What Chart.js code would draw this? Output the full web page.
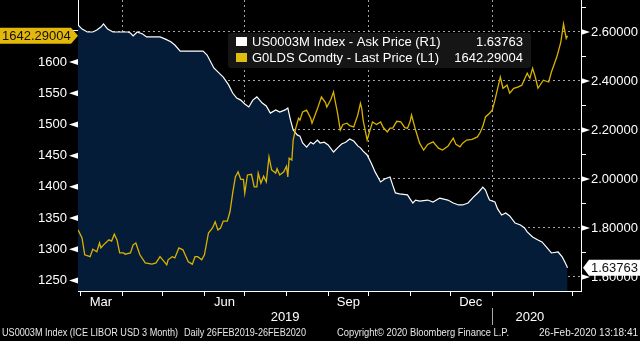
<!DOCTYPE html>
<html>
<head>
<meta charset="utf-8">
<script src="https://cdn.jsdelivr.net/npm/chart.js@4.4.1/dist/chart.umd.min.js"></script>
<style>
  html, body { margin: 0; padding: 0; background: #000; }
  canvas { display: block; }
</style>
</head>
<body>
<canvas id="chart" width="640" height="341"></canvas>
<script>
// days counted from 26 Feb 2019
const goldDays = [1,4,6,10,12,15,17,18,20,24,26,28,30,32,35,36,40,42,44,47,51,56,59,62,64,67,68,71,73,76,79,83,86,88,90,93,95,98,101,103,105,107,109,112,114,116,118,120,122,124,125,127,130,132,134,135,137,139,141,143,145,148,149,151,154,156,157,158,160,161,163,165,166,168,171,174,175,179,182,185,186,189,191,192,194,196,198,201,203,206,209,211,212,213,216,218,220,223,226,228,231,233,235,238,241,244,246,248,249,252,255,258,261,265,269,272,276,280,282,285,287,290,294,298,300,302,304,307,309,311,315,317,320,322,325,328,331,335,337,339,341,343,347,351,353,357,360,362,364,365];
const goldValues = [1331,1318,1291,1288,1300,1296,1310,1302,1307,1315,1313,1324,1315,1294,1294,1292,1294,1307,1310,1291,1278,1276,1278,1288,1283,1275,1283,1288,1286,1302,1299,1280,1276,1288,1288,1283,1291,1326,1334,1344,1331,1334,1345,1345,1360,1390,1416,1424,1412,1412,1390,1419,1420,1400,1400,1422,1406,1417,1408,1448,1427,1422,1429,1419,1424,1433,1416,1446,1443,1475,1495,1510,1507,1520,1523,1510,1502,1525,1544,1535,1528,1540,1552,1540,1518,1491,1500,1502,1498,1496,1515,1534,1525,1507,1475,1490,1504,1500,1504,1495,1488,1494,1494,1505,1504,1495,1494,1505,1515,1491,1470,1459,1468,1472,1462,1459,1465,1478,1468,1464,1470,1475,1476,1480,1487,1497,1512,1518,1523,1539,1576,1558,1563,1550,1558,1560,1563,1582,1574,1590,1576,1558,1571,1568,1584,1608,1632,1661,1638,1642.29004];

const liborDays = [1,4,8,12,15,18,20,23,27,32,38,40,42,45,49,52,57,62,66,70,73,77,82,87,94,97,102,105,109,113,116,119,122,125,128,131,134,138,141,144,148,151,155,157,159,161,164,166,168,171,174,176,179,181,184,187,191,194,197,200,203,206,209,211,213,216,219,222,226,229,233,235,237,240,246,248,250,252,255,261,265,270,276,280,284,287,291,295,299,302,304,306,307,311,313,316,319,322,326,330,333,335,339,343,346,350,353,358,361,363,365];
const liborValues = [2.629,2.612,2.600,2.600,2.608,2.620,2.633,2.612,2.600,2.600,2.600,2.596,2.584,2.600,2.592,2.580,2.580,2.580,2.571,2.560,2.547,2.522,2.522,2.522,2.522,2.506,2.453,2.437,2.416,2.384,2.351,2.330,2.322,2.306,2.294,2.322,2.335,2.310,2.298,2.269,2.282,2.273,2.282,2.290,2.240,2.200,2.180,2.175,2.147,2.130,2.150,2.143,2.159,2.147,2.150,2.139,2.110,2.127,2.143,2.150,2.163,2.155,2.135,2.127,2.114,2.098,2.065,2.028,1.988,2.000,2.008,1.975,1.943,1.939,1.935,1.918,1.902,1.914,1.910,1.914,1.906,1.922,1.914,1.902,1.894,1.894,1.902,1.926,1.947,1.967,1.955,1.926,1.914,1.906,1.878,1.853,1.861,1.849,1.820,1.812,1.800,1.784,1.763,1.751,1.743,1.718,1.698,1.702,1.682,1.661,1.63763];

const monthStarts = [3,34,64,95,125,156,187,217,248,278,309,340,369];
const quarterStarts = [34,125,217,309];
const monthLabels = ['Mar','Jun','Sep','Dec'];
const monthLabelDays = [18,110,202,293];
const yearLabels = ['2019','2020'];
const yearLabelDays = [155,337];
const leftTicks = [1250,1275,1300,1325,1350,1375,1400,1425,1450,1475,1500,1525,1550,1575,1600,1625,1650,1675];
const rightTicks = [1.6,1.7,1.8,1.9,2.0,2.1,2.2,2.3,2.4,2.5,2.6,2.7];

const legendNames = ['US0003M Index - Ask Price (R1)', 'G0LDS Comdty - Last Price (L1)'];
const legendValues = ['1.63763', '1642.29004'];

const FONT = "'Liberation Sans', Arial, sans-serif";
const GRID = 'rgba(175,180,188,0.9)';
const GOLD = '#d9b200';

Chart.defaults.font.family = FONT;

function pts(days, vals){ return days.map((d,i)=>({x:d, y:vals[i]})); }
function isMajorLeft(v){ return v % 50 === 0 && v <= 1600; }
function isMajorRight(v){ return Math.round(v*10) % 2 === 0; }

const overlay = {
  id: 'overlay',
  afterDraw(chart){
    const ctx = chart.ctx;
    const x = chart.scales.x, yl = chart.scales.y, yr = chart.scales.y1;
    const area = chart.chartArea;
    ctx.save();

    // axis arrows
    ctx.fillStyle = '#fff';
    leftTicks.filter(isMajorLeft).forEach(v=>{
      const py = yl.getPixelForValue(v);
      ctx.beginPath(); ctx.moveTo(area.left, py-3); ctx.lineTo(area.left, py+3); ctx.lineTo(area.left-9, py); ctx.fill();
    });
    rightTicks.filter(isMajorRight).forEach(v=>{
      const py = yr.getPixelForValue(v);
      ctx.beginPath(); ctx.moveTo(area.right, py-3); ctx.lineTo(area.right, py+3); ctx.lineTo(area.right+9, py); ctx.fill();
    });

    // month and year labels
    ctx.font = '13px ' + FONT;
    ctx.textAlign = 'center';
    ctx.textBaseline = 'middle';
    ctx.fillStyle = '#fff';
    monthLabels.forEach((m,i)=> ctx.fillText(m, x.getPixelForValue(monthLabelDays[i]), 302));
    yearLabels.forEach((m,i)=> ctx.fillText(m, x.getPixelForValue(yearLabelDays[i]), 317));
    const sep = Math.round(x.getPixelForValue(309)) + 0.5;
    ctx.strokeStyle = '#aaa'; ctx.lineWidth = 1;
    ctx.beginPath(); ctx.moveTo(sep, 308); ctx.lineTo(sep, 325); ctx.stroke();

    // footer
    ctx.font = '10px ' + FONT;
    ctx.textAlign = 'left';
    ctx.fillStyle = '#e8e8e8';
    ctx.fillText('US0003M Index (ICE LIBOR USD 3 Month)', 2, 333, 176);
    ctx.fillText('Daily 26FEB2019-26FEB2020', 184, 333, 122);
    ctx.fillText('Copyright\u00a9 2020 Bloomberg Finance L.P.', 337, 333, 172);
    ctx.textAlign = 'right';
    ctx.fillText('26-Feb-2020 13:18:41', 638, 333, 115);

    // legend box
    ctx.fillStyle = 'rgba(22,22,22,0.95)';
    ctx.beginPath(); ctx.roundRect(228, 33, 303, 35, 3); ctx.fill();
    ctx.fillStyle = '#fff'; ctx.fillRect(236, 37, 11, 9);
    ctx.fillStyle = '#e0be10'; ctx.fillRect(236, 53, 11, 9);
    ctx.font = '13px ' + FONT;
    ctx.fillStyle = '#fff';
    ctx.textAlign = 'left';
    ctx.fillText(legendNames[0], 252, 42);
    ctx.fillText(legendNames[1], 252, 58);
    ctx.textAlign = 'right';
    ctx.fillText(legendValues[0], 523, 42);
    ctx.fillText(legendValues[1], 523, 58);

    // last value tags
    const gy = yl.getPixelForValue(goldValues[goldValues.length-1]);
    ctx.fillStyle = '#e3b80a';
    ctx.beginPath();
    ctx.moveTo(0, gy-8); ctx.lineTo(area.left-7, gy-8); ctx.lineTo(area.left, gy);
    ctx.lineTo(area.left-7, gy+8); ctx.lineTo(0, gy+8); ctx.closePath(); ctx.fill();
    ctx.fillStyle = '#111';
    ctx.textAlign = 'left';
    ctx.fillText(legendValues[1], 2, gy+0.5);

    const ly = yr.getPixelForValue(liborValues[liborValues.length-1]);
    ctx.fillStyle = '#fff';
    ctx.beginPath();
    ctx.moveTo(area.right+2, ly); ctx.lineTo(area.right+8, ly-8); ctx.lineTo(640, ly-8);
    ctx.lineTo(640, ly+8); ctx.lineTo(area.right+8, ly+8); ctx.closePath(); ctx.fill();
    ctx.fillStyle = '#111';
    ctx.fillText(legendValues[0], 591, ly+0.5);

    ctx.restore();
  }
};

new Chart(document.getElementById('chart'), {
  type: 'line',
  data: {
    datasets: [
      {
        label: legendNames[1],
        data: pts(goldDays, goldValues),
        yAxisID: 'y',
        borderColor: GOLD,
        borderWidth: 1.3,
        pointRadius: 0,
        fill: false
      },
      {
        label: legendNames[0],
        data: pts(liborDays, liborValues),
        yAxisID: 'y1',
        borderColor: '#ffffff',
        borderWidth: 1.2,
        pointRadius: 0,
        fill: 'start',
        backgroundColor: '#041c38'
      }
    ]
  },
  options: {
    responsive: false,
    animation: false,
    devicePixelRatio: 1,
    layout: { padding: 0 },
    plugins: { legend: { display: false }, tooltip: { enabled: false } },
    scales: {
      x: {
        type: 'linear', min: 1, max: 375, position: 'bottom',
        afterBuildTicks: s => { s.ticks = monthStarts.map(v=>({value:v})); },
        afterFit: s => { s.height = 50; s.paddingLeft = 0; s.paddingRight = 0; },
        ticks: { callback: () => '', padding: 0 },
        grid: {
          color: c => (c.tick && quarterStarts.includes(c.tick.value)) ? GRID : 'rgba(0,0,0,0)',
          tickColor: '#fff', tickLength: 5
        },
        border: { color: '#fff', width: 1, dash: [2,3] }
      },
      y: {
        type: 'linear', position: 'left', min: 1233, max: 1699.5,
        afterBuildTicks: s => { s.ticks = leftTicks.map(v=>({value:v})); },
        afterFit: s => { s.width = 78; s.paddingTop = 0; s.paddingBottom = 0; },
        ticks: { callback: v => isMajorLeft(v) ? String(v) : '', color: '#fff', font: { size: 13 }, padding: 6 },
        grid: { drawOnChartArea: false, tickColor: '#fff', tickLength: 5 },
        border: { color: '#fff', width: 1 }
      },
      y1: {
        type: 'linear', position: 'right', min: 1.5428, max: 2.7306,
        afterBuildTicks: s => { s.ticks = rightTicks.map(v=>({value:v})); },
        afterFit: s => { s.width = 59; s.paddingTop = 0; s.paddingBottom = 0; },
        ticks: { callback: v => isMajorRight(v) ? v.toFixed(5) : '', color: '#fff', font: { size: 13 }, padding: 5 },
        grid: {
          drawOnChartArea: true,
          color: c => (c.tick && isMajorRight(c.tick.value)) ? GRID : 'rgba(0,0,0,0)',
          tickColor: '#fff', tickLength: 5
        },
        border: { color: '#fff', width: 1, dash: [2,3] }
      }
    }
  },
  plugins: [overlay]
});
</script>
</body>
</html>
